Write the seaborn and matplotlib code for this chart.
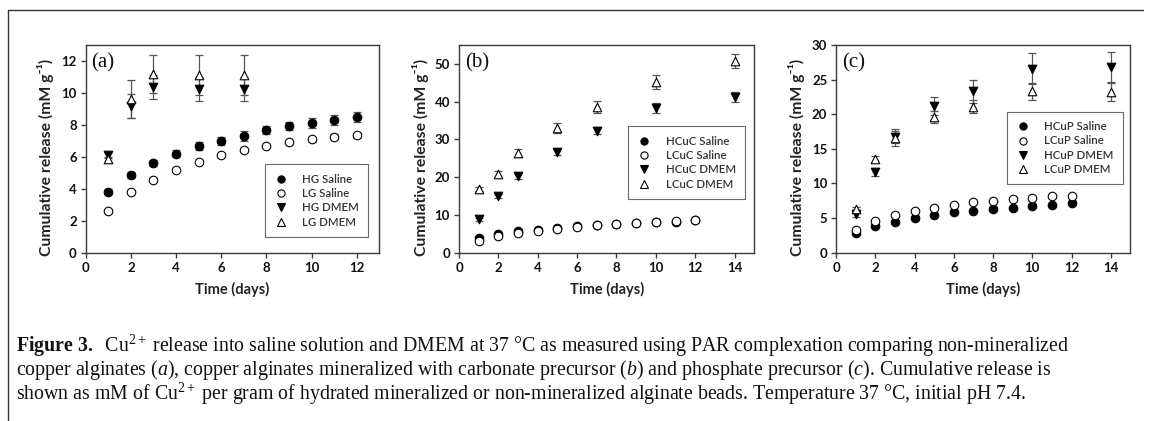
import numpy as np
import pandas as pd
import seaborn as sns
import matplotlib
matplotlib.use("Agg")
import matplotlib.pyplot as plt
from matplotlib.lines import Line2D

# ---------------- data ----------------
days_saline = [1, 2, 3, 4, 5, 6, 7, 8, 9, 10, 11, 12]

# panel (a): non-mineralized copper alginates
a_hg_saline = [3.8, 4.85, 5.6, 6.2, 6.65, 7.0, 7.3, 7.65, 7.9, 8.1, 8.3, 8.5]
a_hg_saline_err = [0.15, 0.2, 0.2, 0.2, 0.25, 0.25, 0.3, 0.25, 0.25, 0.3, 0.3, 0.3]
a_lg_saline = [2.6, 3.8, 4.55, 5.2, 5.7, 6.1, 6.4, 6.65, 6.9, 7.1, 7.25, 7.35]
a_lg_saline_err = [0.1, 0.1, 0.1, 0.1, 0.1, 0.1, 0.1, 0.1, 0.1, 0.15, 0.15, 0.15]
a_days_dmem = [1, 2, 3, 5, 7]
a_hg_dmem = [6.1, 9.2, 10.35, 10.25, 10.25]
a_hg_dmem_err = [0.15, 0.75, 0.75, 0.75, 0.75]
a_lg_dmem = [5.85, 9.6, 11.2, 11.1, 11.1]
a_lg_dmem_err = [0.15, 1.2, 1.2, 1.25, 1.25]

# panel (b): carbonate precursor
b_hcuc_saline = [3.8, 4.9, 5.6, 6.0, 6.5, 6.9, 7.2, 7.5, 7.8, 8.0, 8.2, 8.5]
b_hcuc_saline_err = [0.3, 0.3, 0.3, 0.3, 0.3, 0.3, 0.3, 0.3, 0.3, 0.3, 0.3, 0.3]
b_lcuc_saline = [3.0, 4.3, 5.1, 5.8, 6.3, 6.8, 7.2, 7.5, 7.8, 8.0, 8.3, 8.5]
b_lcuc_saline_err = [0.3, 0.3, 0.3, 0.3, 0.3, 0.3, 0.3, 0.3, 0.3, 0.3, 0.3, 0.3]
b_days_dmem = [1, 2, 3, 5, 7, 10, 14]
b_hcuc_dmem = [8.8, 15.0, 20.2, 26.6, 32.3, 38.4, 41.2]
b_hcuc_dmem_err = [0.4, 0.5, 0.8, 0.8, 0.9, 1.3, 1.4]
b_lcuc_dmem = [16.8, 20.8, 26.4, 33.0, 38.6, 45.2, 50.7]
b_lcuc_dmem_err = [0.5, 0.9, 1.0, 1.3, 1.6, 1.8, 1.8]

# panel (c): phosphate precursor
c_hcup_saline = [2.8, 3.8, 4.45, 4.95, 5.4, 5.8, 6.05, 6.3, 6.5, 6.75, 6.9, 7.1]
c_hcup_saline_err = [0.15, 0.15, 0.15, 0.15, 0.15, 0.15, 0.15, 0.15, 0.15, 0.15, 0.15, 0.15]
c_lcup_saline = [3.3, 4.5, 5.35, 5.95, 6.45, 6.9, 7.25, 7.5, 7.7, 7.9, 8.1, 8.2]
c_lcup_saline_err = [0.15, 0.15, 0.15, 0.15, 0.15, 0.15, 0.15, 0.15, 0.15, 0.15, 0.15, 0.15]
c_days_dmem = [1, 2, 3, 5, 7, 10, 14]
c_hcup_dmem = [5.6, 11.6, 16.7, 21.2, 23.3, 26.6, 26.8]
c_hcup_dmem_err = [0.4, 0.6, 0.9, 1.3, 1.7, 2.2, 2.2]
c_lcup_dmem = [6.3, 13.5, 16.6, 19.6, 21.1, 23.3, 23.2]
c_lcup_dmem_err = [0.3, 0.4, 1.2, 0.9, 1.0, 1.2, 1.3]

panel_tags = ["(a)", "(b)", "(c)"]
legend_labels = [
    ["HG Saline", "LG Saline", "HG DMEM", "LG DMEM"],
    ["HCuC Saline", "LCuC Saline", "HCuC DMEM", "LCuC DMEM"],
    ["HCuP Saline", "LCuP Saline", "HCuP DMEM", "LCuP DMEM"],
]
x_label = "Time (days)"
y_label = "Cumulative release (mM g\u207b\u00b9)"

caption_lines = [
    r"$\mathbf{Figure\ 3.}$  Cu$^{\mathrm{2+}}$ release into saline solution and DMEM at 37 °C as measured using PAR complexation comparing non-mineralized",
    r"copper alginates ($\mathit{a}$), copper alginates mineralized with carbonate precursor ($\mathit{b}$) and phosphate precursor ($\mathit{c}$). Cumulative release is",
    r"shown as mM of Cu$^{\mathrm{2+}}$ per gram of hydrated mineralized or non-mineralized alginate beads. Temperature 37 °C, initial pH 7.4.",
]

panels = [
    dict(
        series=[
            (days_saline, a_hg_saline, a_hg_saline_err),
            (days_saline, a_lg_saline, a_lg_saline_err),
            (a_days_dmem, a_hg_dmem, a_hg_dmem_err),
            (a_days_dmem, a_lg_dmem, a_lg_dmem_err),
        ],
        xlim=(0, 13), ylim=(0, 13), yticks=[0, 2, 4, 6, 8, 10, 12],
        xticks=[0, 2, 4, 6, 8, 10, 12], leg_anchor=(0.962, 0.075),
        ylab_x=-0.108,
    ),
    dict(
        series=[
            (days_saline, b_hcuc_saline, b_hcuc_saline_err),
            (days_saline, b_lcuc_saline, b_lcuc_saline_err),
            (b_days_dmem, b_hcuc_dmem, b_hcuc_dmem_err),
            (b_days_dmem, b_lcuc_dmem, b_lcuc_dmem_err),
        ],
        xlim=(0, 15), ylim=(0, 55), yticks=[0, 10, 20, 30, 40, 50],
        xticks=[0, 2, 4, 6, 8, 10, 12, 14], leg_anchor=(0.969, 0.258),
        ylab_x=-0.102,
    ),
    dict(
        series=[
            (days_saline, c_hcup_saline, c_hcup_saline_err),
            (days_saline, c_lcup_saline, c_lcup_saline_err),
            (c_days_dmem, c_hcup_dmem, c_hcup_dmem_err),
            (c_days_dmem, c_lcup_dmem, c_lcup_dmem_err),
        ],
        xlim=(0, 15), ylim=(0, 30), yticks=[0, 5, 10, 15, 20, 25, 30],
        xticks=[0, 2, 4, 6, 8, 10, 12, 14], leg_anchor=(0.975, 0.328),
        ylab_x=-0.107,
    ),
]

# ---------------- style ----------------
sns.set_theme(style="ticks")
plt.rcParams["font.family"] = ["Lato", "DejaVu Sans"]
plt.rcParams["mathtext.fontset"] = "custom"
plt.rcParams["mathtext.rm"] = "Liberation Serif"
plt.rcParams["mathtext.it"] = "Liberation Serif:italic"
plt.rcParams["mathtext.bf"] = "Liberation Serif:bold"

marker_kinds = ["o", "o", "v", "^"]
face_cols = ["black", "white", "black", "white"]
order_key = ["s0", "s1", "s2", "s3"]

fig = plt.figure(figsize=(11.49, 4.21), dpi=100)
W, H = 1149.0, 421.0
ax_lefts = [85.7, 459.0, 836.3]
ax_widths = [293.6, 295.3, 294.0]
ax_top, ax_bot = 45.0, 252.5

spine_col = "#3a3a3a"
err_col = "#555555"

for i, p in enumerate(panels):
    ax = fig.add_axes([ax_lefts[i] / W, (H - ax_bot) / H,
                       ax_widths[i] / W, (ax_bot - ax_top) / H])
    rows = []
    for k, (dx, dy, de) in enumerate(p["series"]):
        for xx, yy, ee in zip(dx, dy, de):
            rows.append(dict(day=xx, val=yy, err=ee, grp=order_key[k]))
    df = pd.DataFrame(rows)

    # error bars first (behind markers)
    for k in range(4):
        sub = df[df.grp == order_key[k]]
        ax.errorbar(sub["day"], sub["val"], yerr=sub["err"], fmt="none",
                    ecolor=err_col, elinewidth=0.9, capsize=3.2,
                    capthick=0.9, zorder=2)

    for k in range(4):
        sub = df[df.grp == order_key[k]]
        sns.scatterplot(data=sub, x="day", y="val", ax=ax,
                        marker=marker_kinds[k], s=38,
                        color=face_cols[k], edgecolor="black",
                        linewidth=0.8, zorder=3, legend=False)

    ax.set_xlim(*p["xlim"])
    ax.set_ylim(*p["ylim"])
    ax.set_xticks(p["xticks"])
    ax.set_yticks(p["yticks"])
    ax.set_xlabel(x_label, fontsize=10.5, fontweight="bold", color="#222222",
                  labelpad=6)
    ax.set_ylabel(y_label, fontsize=11.3, fontweight="bold", color="#222222")
    ax.yaxis.set_label_coords(p["ylab_x"], 0.46)
    for sp in ax.spines.values():
        sp.set_visible(True)
        sp.set_color(spine_col)
        sp.set_linewidth(1.0)
    ax.tick_params(axis="both", direction="out", length=3.5, width=1.0,
                   color=spine_col, labelsize=9.5, pad=3,
                   labelcolor="#111111")
    for lab in ax.get_xticklabels() + ax.get_yticklabels():
        lab.set_fontweight("bold")

    ax.text(0.02, 0.96, panel_tags[i], transform=ax.transAxes,
            ha="left", va="top", fontsize=15, family="Liberation Serif",
            color="#111111")

    handles = [Line2D([], [], linestyle="none", marker=marker_kinds[k],
                      markersize=5.2, markerfacecolor=face_cols[k],
                      markeredgecolor="black", markeredgewidth=0.8)
               for k in range(4)]
    leg = ax.legend(handles, legend_labels[i], loc="lower right",
                    bbox_to_anchor=p["leg_anchor"], frameon=True,
                    fancybox=False, fontsize=8.2, handlelength=1.2,
                    handletextpad=1.3, labelspacing=0.3, borderpad=0.8,
                    borderaxespad=0.0)
    leg.get_frame().set_edgecolor("#444444")
    leg.get_frame().set_linewidth(0.8)
    for t in leg.get_texts():
        t.set_color("#333333")
        t.set_fontweight("semibold")

# frame lines of the figure box (top and left)
fig.add_artist(Line2D([8 / W, 1143 / W], [(H - 10) / H, (H - 10) / H],
                      transform=fig.transFigure, color="#333333", lw=1.0))
fig.add_artist(Line2D([8 / W, 8 / W], [(H - 10) / H, 0.0],
                      transform=fig.transFigure, color="#333333", lw=1.0))

cap_y = [346, 370, 394]
for line, yy in zip(caption_lines, cap_y):
    fig.text(16 / W, (H - yy) / H, line, ha="left", va="center",
             fontsize=14.3, family="Liberation Serif", color="#111111")

fig.savefig("out.png", dpi=100)
